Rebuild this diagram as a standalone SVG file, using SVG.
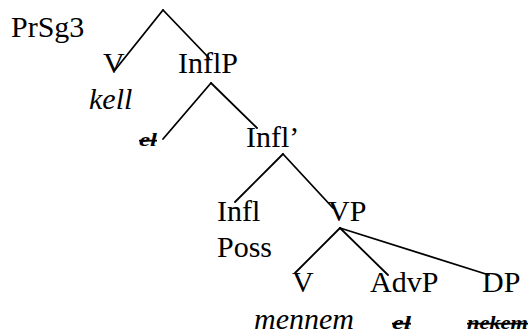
<svg xmlns="http://www.w3.org/2000/svg" width="529" height="336" viewBox="0 0 529 336">
<style>
.it{font-style:italic}
.sm{font-style:italic;font-weight:bold;font-size:18px;text-decoration:line-through}
line{stroke:#000;stroke-width:1.8;stroke-linecap:round}
</style>
<rect width="529" height="336" fill="#fff"/>
<g id="connectors">
<line x1="163" y1="10" x2="115" y2="70"/>
<line x1="163" y1="10" x2="209" y2="58"/>
<line x1="211" y1="83" x2="163" y2="139"/>
<line x1="211" y1="83" x2="257" y2="128"/>
<line x1="283" y1="154" x2="235" y2="202"/>
<line x1="283" y1="154" x2="333" y2="208"/>
<line x1="340" y1="228" x2="295" y2="273"/>
<line x1="340" y1="228" x2="388" y2="275"/>
<line x1="340" y1="228" x2="489" y2="275"/>
</g>
<g font-family="Liberation Serif, DejaVu Serif, serif" font-size="30" fill="#000">
<g id="n-prsg3"><text x="11" y="37">PrSg3</text></g>
<g id="n-v1"><text x="103" y="73">V</text></g>
<g id="n-kell"><text class="it" x="89" y="109">kell</text></g>
<g id="n-inflp"><text x="178" y="73">InflP</text></g>
<g id="n-el1"><text class="sm" x="139" y="146" textLength="18" lengthAdjust="spacingAndGlyphs">el</text></g>
<g id="n-inflbar"><text x="246" y="147">Infl’</text></g>
<g id="n-infl"><text x="217" y="221">Infl</text><text x="217" y="257">Poss</text></g>
<g id="n-vp"><text x="328" y="221">VP</text></g>
<g id="n-v2"><text x="292" y="292">V</text><text class="it" x="254" y="329">mennem</text></g>
<g id="n-advp"><text x="370" y="292">AdvP</text><text class="sm" x="392" y="329" textLength="19" lengthAdjust="spacingAndGlyphs">el</text></g>
<g id="n-dp"><text x="482" y="292">DP</text><text class="sm" x="467" y="329" textLength="61" lengthAdjust="spacingAndGlyphs">nekem</text></g>
</g>
</svg>
